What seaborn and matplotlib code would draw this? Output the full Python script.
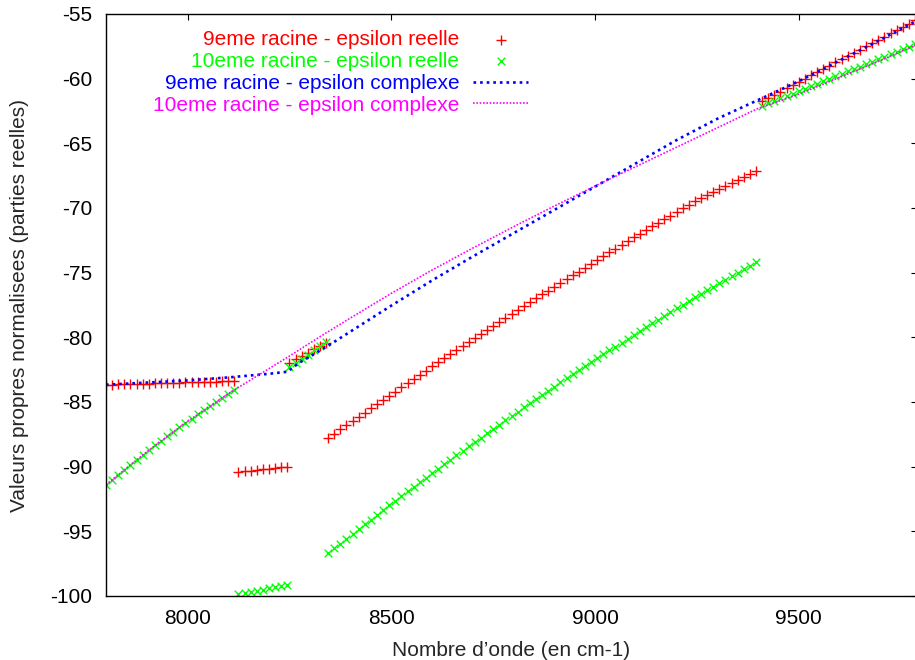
import numpy as np
import pandas as pd
import matplotlib
matplotlib.use('Agg')
import matplotlib.pyplot as plt
import seaborn as sns

# Nombre d'onde (cm-1) des points calcules, par troncon
pas = 15
x_seg1 = np.arange(7800, 8116, pas)
x_seg2 = np.arange(8125, 8246, pas)
x_seg3 = np.arange(8250, 8341, pas)
x_seg4 = np.arange(8345, 9396, pas)
x_seg5 = np.arange(9410, 9786, pas)

# 9eme racine - epsilon reelle
rouge_seg1 = [-83.66, -83.65, -83.63, -83.62, -83.61, -83.59, -83.58, -83.57, -83.55, -83.54, -83.53,
              -83.51, -83.50, -83.49, -83.47, -83.46, -83.45, -83.43, -83.42, -83.41, -83.39, -83.38]
rouge_seg2 = [-90.40, -90.35, -90.30, -90.25, -90.20, -90.15, -90.10, -90.05, -90.00]
rouge_seg3 = [-81.95, -81.69, -81.43, -81.18, -80.92, -80.66, -80.40]
rouge_seg4 = [-87.77, -87.45, -87.12, -86.80, -86.47, -86.15, -85.82, -85.50, -85.17, -84.85, -84.52,
              -84.20, -83.87, -83.55, -83.22, -82.90, -82.57, -82.25, -81.94, -81.63, -81.32, -81.01,
              -80.70, -80.39, -80.08, -79.77, -79.46, -79.15, -78.84, -78.53, -78.22, -77.91, -77.60,
              -77.29, -76.98, -76.68, -76.39, -76.09, -75.80, -75.50, -75.21, -74.91, -74.62, -74.32,
              -74.03, -73.73, -73.44, -73.14, -72.85, -72.55, -72.26, -71.98, -71.70, -71.42, -71.14,
              -70.86, -70.58, -70.30, -70.02, -69.74, -69.46, -69.23, -68.99, -68.76, -68.52, -68.29,
              -68.05, -67.82, -67.58, -67.35, -67.11]
rouge_seg5 = [-61.75, -61.50, -61.25, -61.00, -60.75, -60.50, -60.25, -60.00, -59.75, -59.50, -59.25,
              -59.00, -58.75, -58.50, -58.25, -58.00, -57.75, -57.50, -57.25, -57.00, -56.75, -56.50,
              -56.25, -56.00, -55.75, -55.50]

# 10eme racine - epsilon reelle
vert_seg1 = [-91.40, -91.01, -90.61, -90.23, -89.85, -89.47, -89.10, -88.73, -88.36, -88.01, -87.65,
             -87.30, -86.96, -86.61, -86.28, -85.95, -85.62, -85.30, -84.98, -84.66, -84.36, -84.05]
vert_seg2 = [-99.85, -99.76, -99.68, -99.59, -99.50, -99.41, -99.33, -99.24, -99.15]
vert_seg3 = [-82.30, -81.98, -81.65, -81.33, -81.00, -80.68, -80.35]
vert_seg4 = [-96.70, -96.32, -95.95, -95.57, -95.20, -94.83, -94.46, -94.09, -93.72, -93.36, -93.00,
             -92.63, -92.28, -91.92, -91.56, -91.21, -90.85, -90.50, -90.15, -89.80, -89.46, -89.11,
             -88.77, -88.43, -88.09, -87.75, -87.41, -87.07, -86.74, -86.41, -86.08, -85.75, -85.42,
             -85.10, -84.77, -84.45, -84.13, -83.81, -83.49, -83.18, -82.86, -82.55, -82.24, -81.93,
             -81.62, -81.32, -81.01, -80.71, -80.41, -80.11, -79.81, -79.52, -79.22, -78.93, -78.64,
             -78.35, -78.06, -77.77, -77.49, -77.21, -76.92, -76.65, -76.37, -76.09, -75.82, -75.54,
             -75.27, -75.00, -74.73, -74.47, -74.20]
vert_seg5 = [-62.10, -61.91, -61.72, -61.53, -61.34, -61.15, -60.96, -60.77, -60.58, -60.39, -60.20,
             -60.01, -59.82, -59.63, -59.44, -59.25, -59.06, -58.87, -58.68, -58.49, -58.30, -58.11,
             -57.92, -57.73, -57.54, -57.35]

# 9eme racine - epsilon complexe
x_bleu = [7800, 7900, 8000, 8100, 8200, 8245, 8275, 8300, 8350, 8400, 8500, 8600, 8700,
          8800, 8900, 9000, 9100, 9200, 9300, 9400, 9500, 9600, 9700, 9790]
y_bleu = [-83.66, -83.50, -83.33, -83.10, -82.82, -82.66, -81.95, -81.50, -80.55, -79.55, -77.55,
          -75.60, -73.75, -71.95, -70.15, -68.35, -66.55, -64.75, -63.10, -61.65, -60.20, -58.60,
          -57.00, -55.50]

# 10eme racine - epsilon complexe
x_magenta = [7800, 7900, 8000, 8100, 8170, 8250, 8325, 8400, 8500, 8600, 8700, 8800, 8900,
             9000, 9100, 9200, 9300, 9400, 9500, 9600, 9700, 9790]
y_magenta = [-91.40, -88.85, -86.50, -84.36, -83.00, -81.45, -79.95, -78.50, -76.60, -74.80, -73.10,
             -71.45, -69.85, -68.30, -66.80, -65.30, -63.80, -62.30, -61.20, -59.90, -58.60, -57.35]

x_marq = np.concatenate([x_seg1, x_seg2, x_seg3, x_seg4, x_seg5])
df_rouge = pd.DataFrame({'x': x_marq, 'y': rouge_seg1 + rouge_seg2 + rouge_seg3 + rouge_seg4 + rouge_seg5})
df_vert = pd.DataFrame({'x': x_marq, 'y': vert_seg1 + vert_seg2 + vert_seg3 + vert_seg4 + vert_seg5})

sns.set_theme(style='white')
plt.rcParams['font.family'] = ['Liberation Sans', 'DejaVu Sans']
plt.rcParams['axes.unicode_minus'] = False

fig = plt.figure(figsize=(9.15, 6.6), dpi=100)
ax = fig.add_axes([106 / 915, 64 / 660, 811 / 915, 582 / 660])

sns.scatterplot(data=df_rouge, x='x', y='y', marker='+', color='#ff0000', s=42, linewidth=1.0,
                label='9eme racine - epsilon reelle', ax=ax)
sns.scatterplot(data=df_vert, x='x', y='y', marker='x', color='#00ff00', s=30, linewidth=1.0,
                label='10eme racine - epsilon reelle', ax=ax)
sns.lineplot(x=x_bleu, y=y_bleu, color='#0000ff', linewidth=1.9, linestyle=(0, (1, 1.5)),
             estimator=None, label='9eme racine - epsilon complexe', ax=ax)
sns.lineplot(x=x_magenta, y=y_magenta, color='#ff00ff', linewidth=1.2, linestyle=(0, (1, 1)),
             estimator=None, label='10eme racine - epsilon complexe', ax=ax)

ax.set_xlim(7800, 9790)
ax.set_ylim(-100, -55)
ax.set_xticks([8000, 8500, 9000, 9500])
ax.set_yticks(np.arange(-100, -54, 5))
ax.tick_params(direction='in', length=4.5, width=0.8, top=True, right=True, labelsize=15,
               colors='black')
ax.tick_params(axis='x', pad=9)
ax.tick_params(axis='y', pad=10)
for side in ['left', 'bottom', 'top']:
    ax.spines[side].set_color('black')
    ax.spines[side].set_linewidth(1.0)
ax.spines['right'].set_visible(False)

ax.set_xlabel('Nombre d’onde (en cm-1)', fontsize=15, labelpad=10)
ax.set_ylabel('Valeurs propres normalisees (parties reelles)', fontsize=15, labelpad=15)

leg = ax.legend(loc='upper right', bbox_to_anchor=(528 / 915, 1 - 30 / 660),
                bbox_transform=fig.transFigure, frameon=False, markerfirst=False,
                fontsize=15, handlelength=2.63, handletextpad=0.66, labelspacing=0.14,
                borderpad=0, borderaxespad=0)
for txt, col in zip(leg.get_texts(), ['#ff0000', '#00ff00', '#0000ff', '#ff00ff']):
    txt.set_color(col)

fig.savefig('out.png', dpi=100)
